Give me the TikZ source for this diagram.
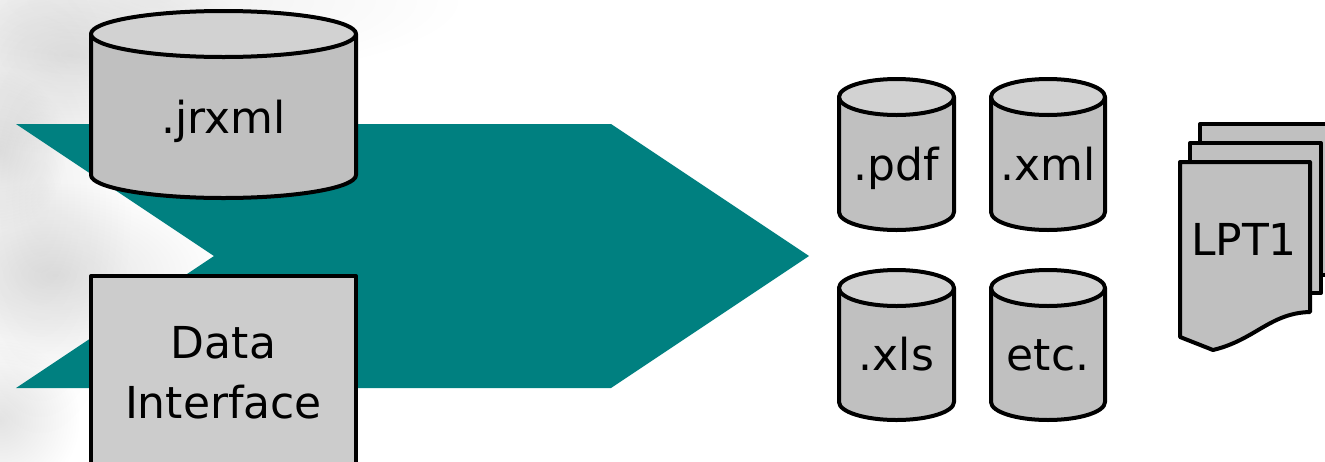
\documentclass[tikz,border=0pt]{standalone}
\usepackage{fontspec}
\setmainfont{DejaVu Sans}
\usetikzlibrary{fadings}
\definecolor{teal1}{HTML}{008080}
\definecolor{body1}{HTML}{C0C0C0}
\definecolor{top1}{HTML}{D2D2D2}
\definecolor{box1}{HTML}{CCCCCC}
\tikzset{
 outline/.style={draw=black,line width=3pt,line join=round},
 lbl/.style={font=\fontsize{33}{45}\selectfont,align=center,text=black,inner sep=0pt},
 cloud1/.style={path fading=fuzzy,fill=black}
}
\tikzfading[name=fuzzy,inner color=transparent!0,outer color=transparent!100]
\newcommand{\mycyl}[7]{%
 \pgfmathsetmacro{\cxx}{(#1+#2)/2}
 \pgfmathsetmacro{\rxx}{(#2-#1)/2}
 \pgfmathsetmacro{\kx}{0.5523*\rxx}
 \pgfmathsetmacro{\ky}{0.5523*#5}
 \pgfmathsetmacro{\ymid}{#3+#5}
 \pgfmathsetmacro{\ybot}{#4-#5}
 \draw[outline,fill=body1] (#1,\ymid) -- (#1,\ybot)
   .. controls (#1,\ybot+\ky) and (\cxx-\kx,#4) .. (\cxx,#4)
   .. controls (\cxx+\kx,#4) and (#2,\ybot+\ky) .. (#2,\ybot)
   -- (#2,\ymid) -- cycle;
 \draw[outline,fill=top1] (#1,\ymid)
   .. controls (#1,\ymid-\ky) and (\cxx-\kx,#3) .. (\cxx,#3)
   .. controls (\cxx+\kx,#3) and (#2,\ymid-\ky) .. (#2,\ymid)
   .. controls (#2,\ymid+\ky) and (\cxx+\kx,\ymid+#5) .. (\cxx,\ymid+#5)
   .. controls (\cxx-\kx,\ymid+#5) and (#1,\ymid+\ky) .. (#1,\ymid) -- cycle;
 \node[lbl,anchor=base] (#6) at (\cxx,#7) {#6};
}
\begin{document}
\begin{tikzpicture}[x=0.75pt,y=-0.75pt]
\useasboundingbox (0,0) rectangle (1325,461);
\clip (0,0) rectangle (1325,461);
% mottled background
\begin{scope}[opacity=0.11]
 \fill[cloud1] (70,55) ellipse [x radius=140pt,y radius=75pt];
 \fill[cloud1] (55,275) ellipse [x radius=130pt,y radius=70pt];
 \fill[cloud1] (0,150) ellipse [x radius=50pt,y radius=60pt];
 \fill[cloud1] (0,420) ellipse [x radius=60pt,y radius=60pt];
\end{scope}
\begin{scope}[opacity=0.06]
 \fill[cloud1] (160,0) ellipse [x radius=230pt,y radius=60pt];
 \fill[cloud1] (40,200) ellipse [x radius=70pt,y radius=180pt];
\end{scope}
% arrow
\fill[teal1] (16,124) -- (611,124) -- (809,256) -- (611,388) -- (16,388) -- (214,256) -- cycle;
% left shapes
\mycyl{91}{356}{11}{198}{23}{.jrxml}{133}
\draw[outline,fill=box1] (91,276) rectangle (356,480);
\node[lbl] (dataif) at (223.5,373) {Data\\Interface};
% output cylinders
\mycyl{839}{954}{79}{230}{18}{.pdf}{180}
\mycyl{991}{1105}{79}{230}{18}{.xml}{180}
\mycyl{839}{954}{270}{420}{18}{.xls}{370}
\mycyl{991}{1105}{270}{420}{18}{etc.}{370}
% printed pages
\draw[outline,fill=body1] (1200,124) -- (1332,124) -- (1332,275) -- (1200,275) -- cycle;
\draw[outline,fill=body1] (1190,143) -- (1321,143) -- (1321,293) -- (1190,293) -- cycle;
\draw[outline,fill=body1] (1180,162) -- (1310,162) -- (1310,312)
  .. controls (1270,313) and (1255,340) .. (1213,350) -- (1180,337) -- cycle;
\node[lbl,anchor=base] (lpt) at (1244,255) {LPT1};
\end{tikzpicture}
\end{document}
